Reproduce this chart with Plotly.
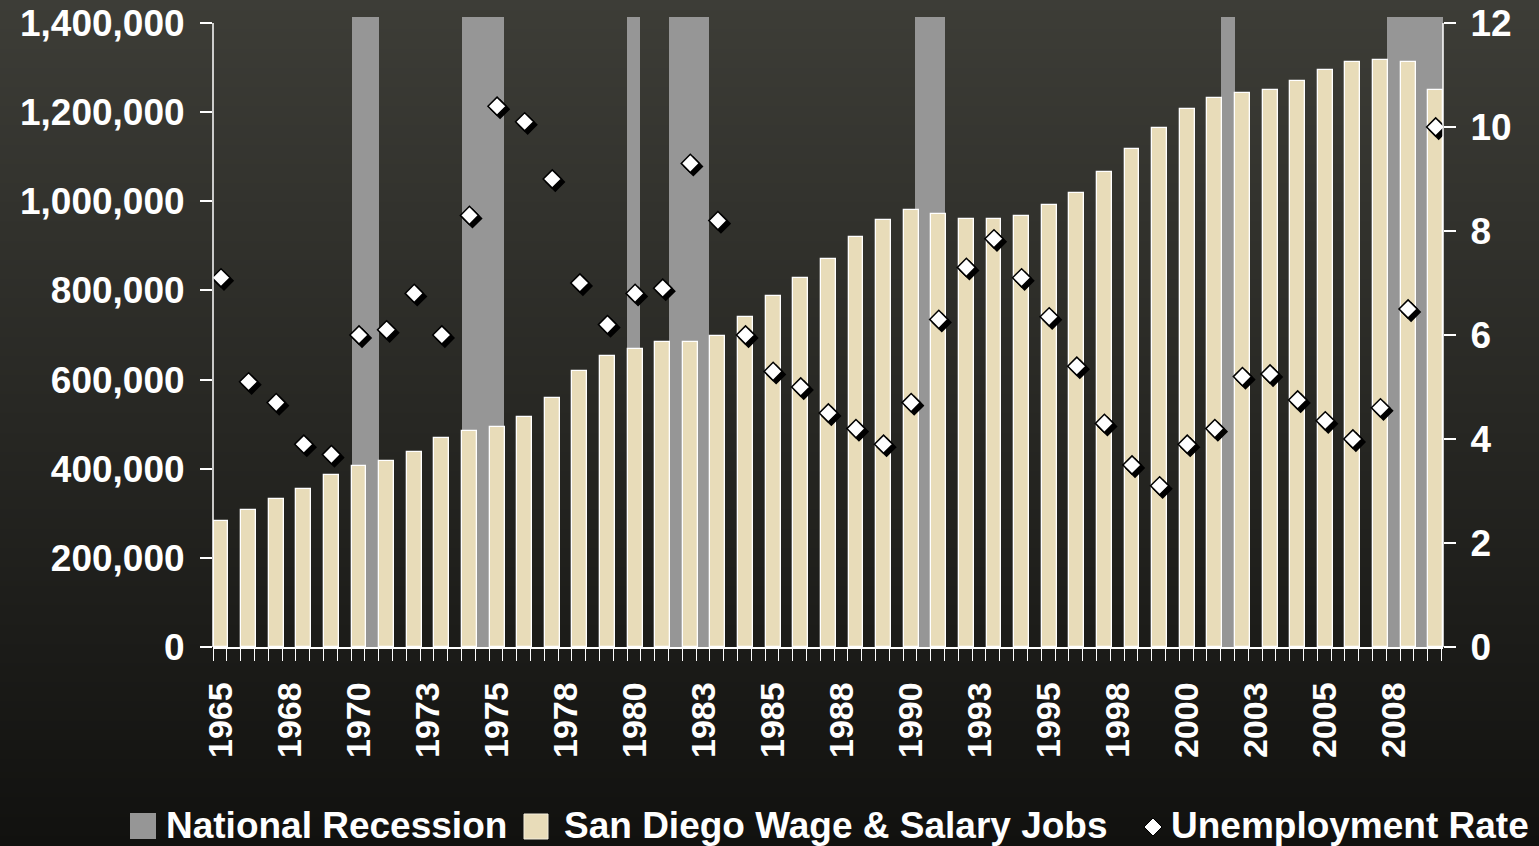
import base64
import struct
import zlib

import plotly.graph_objects as go

# ---------------- data ----------------
years = list(range(1965, 2010))
jobs = [283000, 307000, 331000, 354000, 386000, 406000, 418000, 437000, 469000, 485000,
        493000, 516000, 559000, 619000, 654000, 669000, 685000, 684000, 697000, 740000,
        787000, 828000, 870000, 921000, 957000, 980000, 971000, 960000, 960000, 967000,
        991000, 1019000, 1065000, 1117000, 1164000, 1207000, 1231000, 1242000, 1250000, 1269000,
        1294000, 1313000, 1317000, 1313000, 1250000]
unemployment = [7.1, 5.1, 4.7, 3.9, 3.7, 6.0, 6.1, 6.8, 6.0, 8.3,
                10.4, 10.1, 9.0, 7.0, 6.2, 6.8, 6.9, 9.3, 8.2, 6.0,
                5.3, 5.0, 4.5, 4.2, 3.9, 4.7, 6.3, 7.3, 7.85, 7.1,
                6.35, 5.4, 4.3, 3.5, 3.1, 3.9, 4.2, 5.2, 5.25, 4.75,
                4.35, 4.0, 4.6, 6.5, 10.0]
recession_start = [1969.76, 1973.72, 1979.72, 1981.22, 1990.15, 2001.23, 2007.22]
recession_end = [1970.72, 1975.26, 1980.18, 1982.69, 1991.22, 2001.72, 2009.28]

tick_positions = [1965 + 2.5 * i for i in range(18)]
tick_labels = ["1965", "1968", "1970", "1973", "1975", "1978", "1980", "1983", "1985",
               "1988", "1990", "1993", "1995", "1998", "2000", "2003", "2005", "2008"]
left_ticks = [0, 200000, 400000, 600000, 800000, 1000000, 1200000, 1400000]
right_ticks = [0, 2, 4, 6, 8, 10, 12]

# ---------------- layout geometry ----------------
W, H = 1539, 846
ML, MR, MT, MB = 213, 96, 17, 199
PW, PH = W - ML - MR, H - MT - MB
UNIT = (1435.7 - 221.0) / 44.0          # px per year
X0 = 1965 - (221.0 - ML) / UNIT
X1 = X0 + PW / UNIT
Y1_TOP = 1400000 * PH / 624.0
Y2_TOP = 12 * PH / 624.0
SH = 3.0                                 # shadow offset in px
DX = SH / UNIT
DY = SH * Y2_TOP / PH

TAN = "#E8DCB9"
GRAY = "#969696"
FONT = "Arial, 'Liberation Sans', sans-serif"


def px_x(p):
    return (p - ML) / PW


def px_y(p):
    return (H - MB - p) / PH


# ---------------- gradient background image ----------------
def gradient_png(h, top, bottom, w=4):
    rows = []
    for r in range(h):
        t = r / (h - 1)
        c = bytes(int(round(top[k] + (bottom[k] - top[k]) * t)) for k in range(3))
        rows.append(b"\x00" + c * w)
    raw = b"".join(rows)

    def chunk(tag, data):
        return (struct.pack(">I", len(data)) + tag + data +
                struct.pack(">I", zlib.crc32(tag + data) & 0xFFFFFFFF))

    png = (b"\x89PNG\r\n\x1a\n" +
           chunk(b"IHDR", struct.pack(">IIBBBBB", w, h, 8, 2, 0, 0, 0)) +
           chunk(b"IDAT", zlib.compress(raw)) + chunk(b"IEND", b""))
    return "data:image/png;base64," + base64.b64encode(png).decode()


bg = gradient_png(H, (61, 61, 55), (17, 17, 15))

# ---------------- traces ----------------
fig = go.Figure()

rec_mid = [(s + e) / 2 for s, e in zip(recession_start, recession_end)]
rec_w = [e - s for s, e in zip(recession_start, recession_end)]
fig.add_trace(go.Bar(
    x=rec_mid, y=[Y1_TOP] * len(rec_mid), width=rec_w,
    marker=dict(color=GRAY, line=dict(width=0)),
    name="National Recession", showlegend=False, xaxis="x", yaxis="y",
))

fig.add_trace(go.Bar(
    x=years, y=jobs, width=0.54,
    marker=dict(color=TAN, line=dict(color="white", width=1.3)),
    name="San Diego Wage & Salary Jobs", showlegend=False, xaxis="x", yaxis="y",
))

# shadow of diamonds (drawn on shifted overlay axes)
fig.add_trace(go.Scatter(
    x=years, y=unemployment, mode="markers",
    marker=dict(symbol="diamond", size=14, color="black", line=dict(color="black", width=1.5)),
    showlegend=False, hoverinfo="skip", xaxis="x2", yaxis="y3",
))

fig.add_trace(go.Scatter(
    x=years, y=unemployment, mode="markers",
    marker=dict(symbol="diamond", size=14, color="white", line=dict(color="black", width=1.5)),
    name="Unemployment Rate", showlegend=False, xaxis="x3", yaxis="y2",
))

tickfont = dict(family=FONT, size=37, color="white", weight=700)
xtickfont = dict(family=FONT, size=34, color="white", weight=700)

fig.update_layout(
    width=W, height=H,
    margin=dict(l=ML, r=MR, t=MT, b=MB, pad=0, autoexpand=False),
    paper_bgcolor="#121210",
    plot_bgcolor="rgba(0,0,0,0)",
    barmode="overlay",
    bargap=0,
    showlegend=False,
    images=[dict(source=bg, xref="paper", yref="paper",
                 x=-ML / PW, y=(PH + MT) / PH, sizex=W / PW, sizey=H / PH,
                 xanchor="left", yanchor="top", sizing="stretch", layer="below")],
    xaxis=dict(
        range=[X0, X1], showgrid=False, zeroline=False, automargin=False,
        showline=True, linecolor="white", linewidth=1.5,
        tickmode="array", tickvals=tick_positions, ticktext=tick_labels,
        ticks="outside", ticklen=12, tickcolor="rgba(0,0,0,0)",
        tickangle=-90, tickfont=xtickfont, ticklabelstandoff=8,
        minor=dict(ticks="outside", ticklen=12, tickcolor="white", tickwidth=1.3,
                   tickmode="linear", tick0=X0, dtick=0.5, showgrid=False),
    ),
    yaxis=dict(
        range=[0, Y1_TOP], showgrid=False, zeroline=False, showline=False, automargin=False,
        tickmode="array", tickvals=left_ticks, tickformat=",d",
        ticks="outside", ticklen=12, tickcolor="white", tickwidth=1.5,
        tickfont=tickfont, ticklabelstandoff=8,
    ),
    yaxis2=dict(
        range=[0, Y2_TOP], overlaying="y", side="right", anchor="x", automargin=False,
        showgrid=False, zeroline=False, showline=False,
        tickmode="array", tickvals=right_ticks,
        ticks="outside", ticklen=12, tickcolor="white", tickwidth=1.5,
        tickfont=tickfont, ticklabelstandoff=7,
    ),
    xaxis2=dict(range=[X0 - DX, X1 - DX], overlaying="x", visible=False, automargin=False),
    yaxis3=dict(range=[DY, Y2_TOP + DY], overlaying="y", visible=False, automargin=False),
    xaxis3=dict(range=[X0, X1], overlaying="x", visible=False, automargin=False),
)

# axis lines (stop at the top tick like the original)
shapes = [
    dict(type="line", xref="paper", yref="y", x0=0, x1=0, y0=0, y1=1400000,
         line=dict(color="white", width=1.5), layer="above"),
    dict(type="line", xref="paper", yref="y2", x0=1, x1=1, y0=0, y1=12,
         line=dict(color="white", width=1.5), layer="above"),
]

# ---------------- custom legend ----------------
LEG_CY = 826
shapes.append(dict(type="rect", xref="paper", yref="paper",
                   x0=px_x(130), x1=px_x(156), y0=px_y(839), y1=px_y(813),
                   fillcolor=GRAY, line=dict(width=0)))
shapes.append(dict(type="rect", xref="paper", yref="paper",
                   x0=px_x(524), x1=px_x(548), y0=px_y(839), y1=px_y(814),
                   fillcolor=TAN, line=dict(color="#f4eedc", width=1)))
cx, cy, rr = 1153, 827, 9
path = "M{},{} L{},{} L{},{} L{},{} Z".format(
    px_x(cx), px_y(cy - rr), px_x(cx + rr), px_y(cy),
    px_x(cx), px_y(cy + rr), px_x(cx - rr), px_y(cy))
shapes.append(dict(type="path", xref="paper", yref="paper", path=path,
                   fillcolor="white", line=dict(color="black", width=1)))

legend_font = dict(family=FONT, size=37, color="white", weight=700)
annotations = []
for text, xpx in [("National Recession", 164), ("San Diego Wage & Salary Jobs", 562),
                  ("Unemployment Rate", 1169)]:
    annotations.append(dict(text=text, xref="paper", yref="paper",
                            x=px_x(xpx), y=px_y(LEG_CY), xanchor="left", yanchor="middle",
                            showarrow=False, font=legend_font))

fig.update_layout(shapes=shapes, annotations=annotations)

fig.write_html("out.html",
               config={"displayModeBar": False},
               post_script="document.body.style.margin='0px';"
                           "document.body.style.overflow='hidden';")
